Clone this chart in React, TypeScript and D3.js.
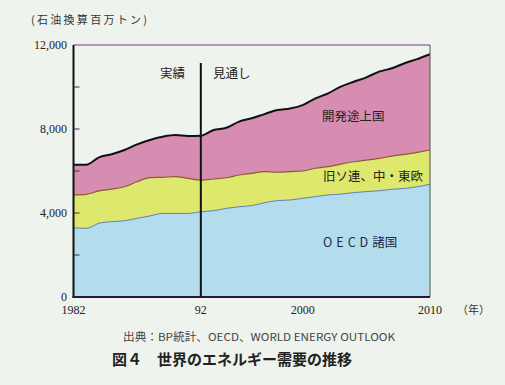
import React, { useEffect, useRef } from 'react';
import * as d3 from 'd3';

// 年
const years = [1982, 1983, 1984, 1985, 1986, 1987, 1988, 1989, 1990, 1991, 1992, 1993, 1994, 1995,
  1996, 1997, 1998, 1999, 2000, 2001, 2002, 2003, 2004, 2005, 2006, 2007, 2008, 2009, 2010];

// 石油換算百万トン
const oecd = [3300, 3270, 3510, 3590, 3630, 3750, 3860, 3980, 3980, 3980, 4060, 4110, 4220, 4300,
  4350, 4490, 4590, 4620, 4700, 4780, 4860, 4900, 4970, 5020, 5060, 5130, 5170, 5250, 5370];
const formerUssr = [1560, 1620, 1540, 1550, 1620, 1740, 1820, 1720, 1750, 1670, 1510, 1510, 1460, 1510,
  1540, 1480, 1350, 1350, 1300, 1350, 1350, 1430, 1470, 1500, 1540, 1580, 1620, 1640, 1630];
const developing = [1440, 1410, 1600, 1660, 1750, 1780, 1800, 1930, 1980, 2020, 2110, 2330, 2380, 2540,
  2620, 2740, 2960, 3010, 3140, 3330, 3490, 3690, 3810, 3940, 4130, 4180, 4340, 4440, 4560];

const seriesKeys = ['oecd', 'ussr', 'dev'];
const seriesColors = ['#b3dcec', '#dde86c', '#d78db2'];
const edgeColors = ['#5f7fb5', '#8a5a35', '#111111'];
const edgeWidths = [1, 1.2, 2];

const yTicks = [0, 4000, 8000, 12000];
const yMinorTicks = [2000, 4000, 6000, 8000, 10000];
const xTicks = [1982, 1992, 2000, 2010];
const xTickLabels = ['1982', '92', '2000', '2010'];

const JP = '"Noto Sans CJK JP", sans-serif';
const SERIF = '"Liberation Serif", "DejaVu Serif", serif';

function App() {
  const ref = useRef<SVGSVGElement>(null);

  useEffect(() => {
    const svg = d3.select(ref.current);
    svg.selectAll('*').remove();

    svg.append('rect').attr('width', 505).attr('height', 385).attr('fill', '#eef3ee');

    const x = d3.scaleLinear().domain([1982, 2010]).range([73.5, 430]);
    const y = d3.scaleLinear().domain([0, 12000]).range([297, 45]);

    const table = years.map((yr, i) => ({ year: yr, oecd: oecd[i], ussr: formerUssr[i], dev: developing[i] }));
    const stacked = d3.stack<any>().keys(seriesKeys)(table);

    const area = d3.area<any>()
      .curve(d3.curveMonotoneX)
      .x(d => x(d.data.year))
      .y0(d => y(d[0]))
      .y1(d => y(d[1]));
    const line = d3.line<any>()
      .curve(d3.curveMonotoneX)
      .x(d => x(d.data.year))
      .y(d => y(d[1]));

    svg.selectAll('path.area')
      .data(stacked)
      .enter()
      .append('path')
      .attr('class', 'area')
      .attr('d', area)
      .attr('fill', (d, i) => seriesColors[i]);

    svg.selectAll('path.edge')
      .data(stacked)
      .enter()
      .append('path')
      .attr('class', 'edge')
      .attr('d', line)
      .attr('fill', 'none')
      .attr('stroke', (d, i) => edgeColors[i])
      .attr('stroke-width', (d, i) => edgeWidths[i]);

    // frame: top & right thin purple, left & bottom black
    svg.append('line').attr('x1', x(1982)).attr('x2', x(2010)).attr('y1', y(12000)).attr('y2', y(12000))
      .attr('stroke', '#6b3f80').attr('stroke-width', 1);
    svg.append('line').attr('x1', x(2010)).attr('x2', x(2010)).attr('y1', y(12000)).attr('y2', y(0))
      .attr('stroke', '#4c5a40').attr('stroke-width', 1);
    svg.append('line').attr('x1', x(1982)).attr('x2', x(1982)).attr('y1', y(12000)).attr('y2', y(0) + 1)
      .attr('stroke', '#111').attr('stroke-width', 2);
    svg.append('line').attr('x1', x(1982) - 1).attr('x2', x(2010)).attr('y1', y(0)).attr('y2', y(0))
      .attr('stroke', '#2a1a3a').attr('stroke-width', 2);

    // minor ticks inside left axis
    svg.selectAll('line.tick')
      .data(yMinorTicks)
      .enter()
      .append('line')
      .attr('x1', x(1982)).attr('x2', x(1982) + 6)
      .attr('y1', d => y(d)).attr('y2', d => y(d))
      .attr('stroke', '#333').attr('stroke-width', 1);

    // 実績 / 見通し divider
    svg.append('line').attr('x1', x(1992)).attr('x2', x(1992)).attr('y1', 63).attr('y2', y(0))
      .attr('stroke', '#111').attr('stroke-width', 2);

    svg.selectAll('text.ytick')
      .data(yTicks)
      .enter()
      .append('text')
      .attr('x', 67)
      .attr('y', d => y(d) + 4)
      .attr('text-anchor', 'end')
      .style('font-family', SERIF)
      .style('font-size', '12px')
      .attr('fill', '#222')
      .text(d => d3.format(',')(d));

    svg.selectAll('text.xtick')
      .data(xTicks)
      .enter()
      .append('text')
      .attr('x', d => x(d))
      .attr('y', 314)
      .attr('text-anchor', 'middle')
      .style('font-family', SERIF)
      .style('font-size', '12px')
      .attr('fill', '#222')
      .text((d, i) => xTickLabels[i]);

    svg.append('text').attr('x', 457).attr('y', 314)
      .style('font-family', JP).style('font-size', '11px').attr('fill', '#333')
      .text('（年）');

    svg.append('text').attr('x', 31).attr('y', 24)
      .style('font-family', JP).style('font-size', '11px').attr('fill', '#333')
      .attr('textLength', 116).attr('lengthAdjust', 'spacing')
      .text('(石油換算百万トン)');

    const labels = [
      { t: '実績', x: 160, y: 78 },
      { t: '見通し', x: 213, y: 78 },
      { t: '開発途上国', x: 322, y: 121 },
      { t: '旧ソ連、中・東欧', x: 323, y: 181 },
    ];
    svg.selectAll('text.lbl')
      .data(labels)
      .enter()
      .append('text')
      .attr('x', d => d.x)
      .attr('y', d => d.y)
      .style('font-family', JP)
      .style('font-size', '12.5px')
      .attr('fill', '#222')
      .text(d => d.t);

    svg.append('text').attr('x', 323).attr('y', 247)
      .style('font-family', JP).style('font-size', '12.5px').attr('fill', '#1f2a4a')
      .append('tspan').attr('letter-spacing', '4px').text('OECD')
      .select(function () { return this.parentNode as any; })
      .append('tspan').text('諸国');

    svg.append('text').attr('x', 123).attr('y', 341)
      .style('font-family', JP).style('font-size', '11px').attr('fill', '#444')
      .attr('textLength', 272).attr('lengthAdjust', 'spacingAndGlyphs')
      .text('出典：BP統計、OECD、WORLD ENERGY OUTLOOK');

    svg.append('text').attr('x', 112).attr('y', 365)
      .style('font-family', JP).style('font-size', '15px').style('font-weight', 'bold').attr('fill', '#222')
      .text('図４　世界のエネルギー需要の推移');
  }, []);

  return (
    <div style={{ position: 'absolute', left: 0, top: 0 }}>
      <svg ref={ref} width={505} height={385}></svg>
    </div>
  );
}

export default App;
